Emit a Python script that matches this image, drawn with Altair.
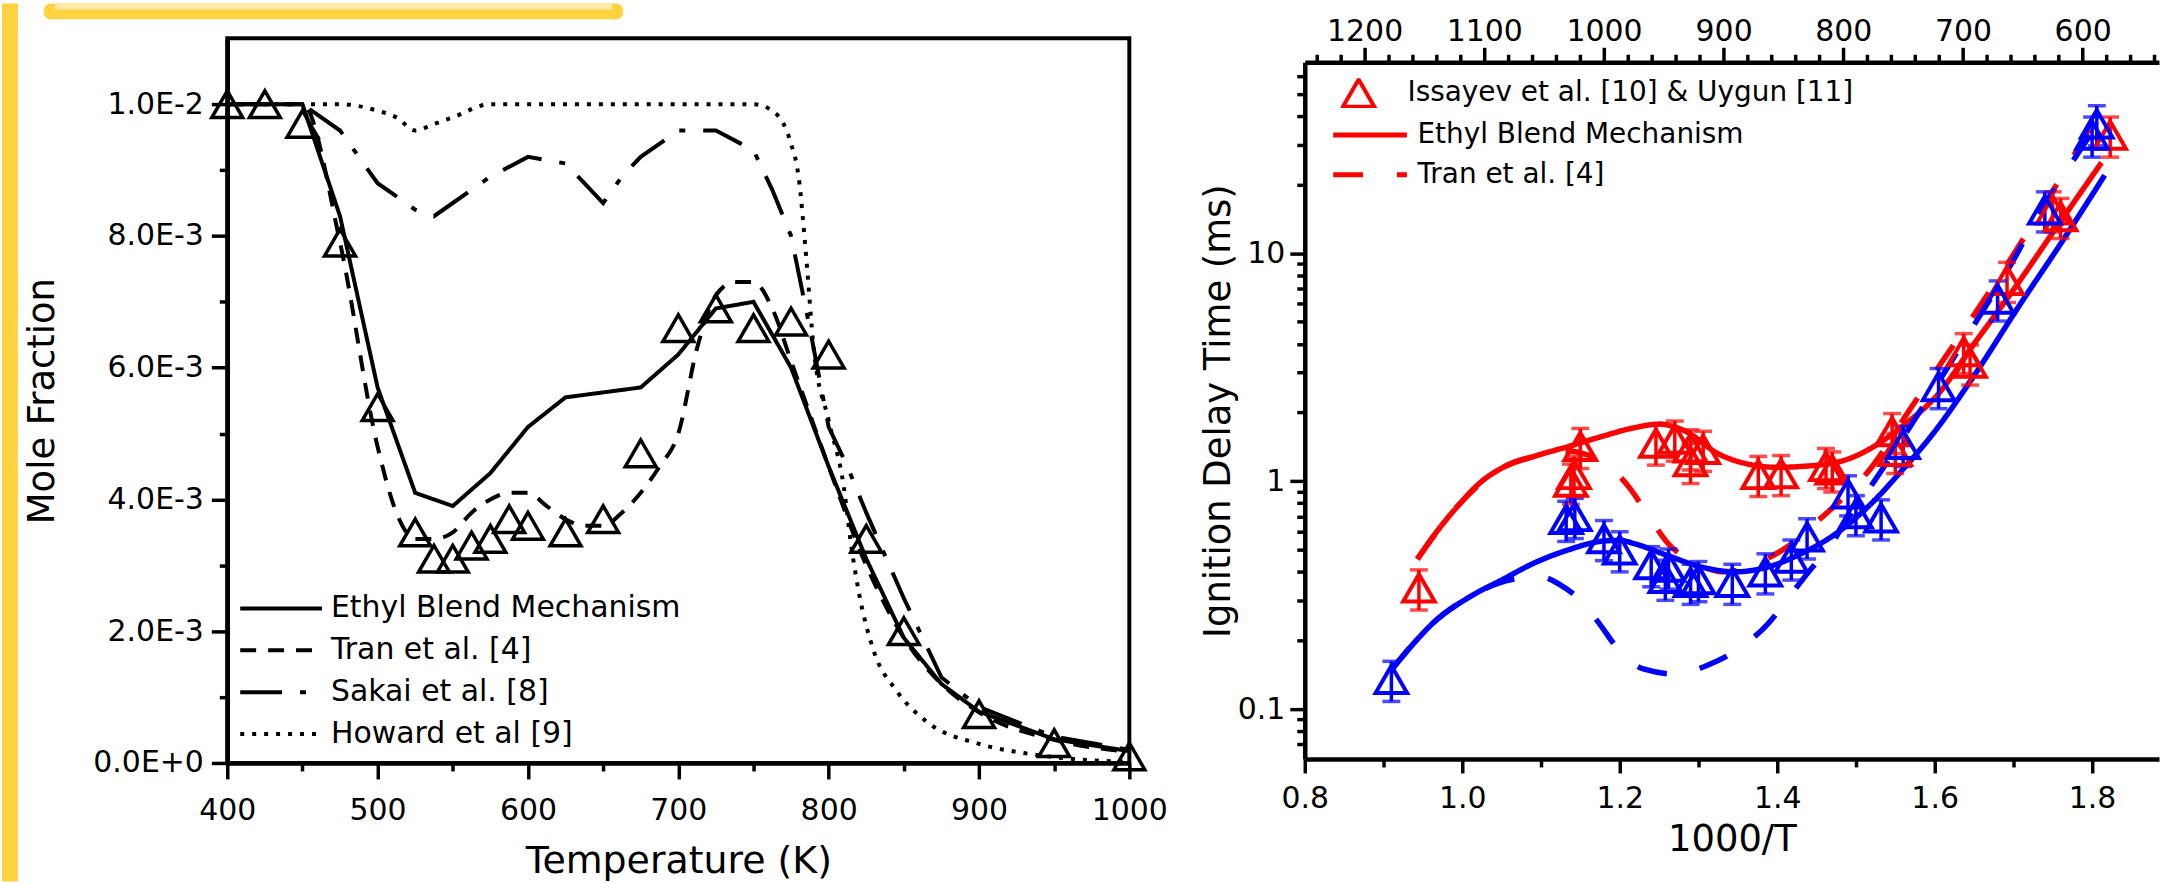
import altair as alt
import pandas as pd

FONT = "DejaVu Sans"
GOLD = "#FFD23F"
LIGHT_GOLD = "#FFE9A6"

# ---------------- Left panel: mole fraction vs temperature ----------------
exp_T = [400, 425, 450, 475, 500, 525, 537.5, 550, 562.5, 575, 587.5, 600, 625, 650, 675,
         700, 725, 750, 775, 800, 825, 850, 900, 950, 1000]
exp_X = [0.0100, 0.0100, 0.0097, 0.0079, 0.0054, 0.0035, 0.0031, 0.0031, 0.0033, 0.0034, 0.0037,
         0.0036, 0.0035, 0.0037, 0.0047, 0.0066, 0.0069, 0.0066, 0.0067, 0.0062, 0.0034, 0.0020,
         0.00074, 0.0003, 0.0001]

ethyl_T = [400, 450, 475, 500, 525, 550, 575, 600, 625, 675, 700, 725, 750, 775, 800, 825, 850,
           875, 900, 950, 1000]
ethyl_X = [0.0100, 0.0100, 0.0083, 0.0057, 0.0041, 0.0039, 0.0044, 0.0051, 0.00555, 0.0057, 0.0062,
           0.0069, 0.0070, 0.0060, 0.0045, 0.0031, 0.0019, 0.0012, 0.00078, 0.00036, 0.00018]

tran_T = [400, 450, 475, 500, 512.5, 525, 537.5, 550, 562.5, 575, 587.5, 600, 612.5, 625, 637.5,
          650, 662.5, 675, 687.5, 700, 712.5, 725, 737.5, 750, 762.5, 775, 800, 825, 850, 875, 900,
          950, 1000]
tran_X = [0.0100, 0.0100, 0.0079, 0.0048, 0.0038, 0.0034, 0.0034, 0.0035, 0.0038, 0.0040, 0.0041,
          0.0041, 0.0039, 0.0037, 0.0036, 0.0036, 0.0038, 0.0041, 0.0045, 0.0050, 0.0063, 0.0071,
          0.0073, 0.0073, 0.0069, 0.0061, 0.0045, 0.0030, 0.0019, 0.0012, 0.00077, 0.00035, 0.00017]

sakai_T = [400, 450, 475, 500, 525, 537.5, 550, 575, 600, 625, 637.5, 650, 662.5, 675, 700, 725,
           750, 762.5, 775, 787.5, 800, 812.5, 825, 850, 875, 900, 950, 1000]
sakai_X = [0.0100, 0.0100, 0.0096, 0.0088, 0.0084, 0.0083, 0.0085, 0.0089, 0.0092, 0.0091, 0.0088,
           0.0085, 0.0089, 0.0092, 0.0096, 0.0096, 0.0093, 0.0087, 0.0080, 0.0066, 0.0051, 0.0045,
           0.0038, 0.0025, 0.0013, 0.00085, 0.0004, 0.0002]

howard_T = [400, 450, 475, 500, 512.5, 525, 537.5, 550, 575, 600, 750, 762.5, 770, 775, 780, 785,
            790, 800, 810, 815, 820, 830, 845, 865, 900, 930, 975, 1000]
howard_X = [0.0100, 0.0100, 0.0100, 0.0099, 0.0098, 0.0096, 0.0097, 0.0098, 0.0100, 0.0100, 0.0100,
            0.0099, 0.0097, 0.0094, 0.0089, 0.0077, 0.0063, 0.0052, 0.0042, 0.0033, 0.0026, 0.0017,
            0.0011, 0.00063, 0.00029, 0.00015, 0.00004, 0.00002]

models_left = ["Ethyl Blend Mechanism", "Tran et al. [4]", "Sakai et al. [8]", "Howard et al [9]"]
dashes_left = [[1, 0], [16, 12], [42, 18, 6, 18], [4, 8]]

left_x_ticks = [400, 450, 500, 550, 600, 650, 700, 750, 800, 850, 900, 950, 1000]
left_y_ticks = [0.0, 0.001, 0.002, 0.003, 0.004, 0.005, 0.006, 0.007, 0.008, 0.009, 0.010]

# ---------------- Right panel: ignition delay vs 1000/T ----------------
red_exp_x = [0.945, 1.138, 1.142, 1.150, 1.246, 1.270, 1.290, 1.290, 1.306, 1.376, 1.405, 1.462,
             1.470, 1.546, 1.550, 1.637, 1.645, 1.692, 1.750, 1.760, 1.823]
red_exp_v = [0.34, 0.99, 1.07, 1.42, 1.47, 1.53, 1.40, 1.22, 1.38, 1.07, 1.08, 1.16, 1.12, 1.65,
             1.35, 3.7, 3.3, 7.6, 15.5, 14.5, 33]
blue_exp_x = [0.910, 1.132, 1.143, 1.180, 1.200, 1.240, 1.258, 1.262, 1.290, 1.300, 1.343, 1.385,
              1.418, 1.438, 1.490, 1.500, 1.532, 1.560, 1.605, 1.680, 1.740, 1.800, 1.806]
blue_exp_v = [0.135, 0.68, 0.70, 0.56, 0.50, 0.43, 0.375, 0.42, 0.36, 0.37, 0.36, 0.40, 0.46, 0.57,
              0.88, 0.72, 0.69, 1.45, 2.6, 6.3, 15.5, 33, 37]
err_frac = 0.2  # relative uncertainty shown by the error bars

red_eth_x = [0.943, 0.966, 0.996, 1.025, 1.050, 1.093, 1.135, 1.177, 1.220, 1.250, 1.283, 1.325,
             1.367, 1.400, 1.430, 1.480, 1.523, 1.557, 1.604, 1.650, 1.696, 1.750, 1.812]
red_eth_v = [0.455, 0.59, 0.79, 1.00, 1.14, 1.29, 1.42, 1.57, 1.72, 1.78, 1.66, 1.32, 1.18, 1.15,
             1.16, 1.22, 1.42, 1.72, 2.4, 4.0, 6.6, 12.3, 25]
red_tran_x = [0.943, 0.996, 1.050, 1.093, 1.120, 1.140, 1.160, 1.181, 1.213, 1.237, 1.262, 1.295,
              1.333, 1.380, 1.418, 1.456, 1.483, 1.519, 1.566, 1.611, 1.658, 1.705, 1.747, 1.785,
              1.816]
red_tran_v = [0.455, 0.79, 1.14, 1.29, 1.34, 1.35, 1.30, 1.20, 0.93, 0.70, 0.53, 0.44, 0.40, 0.445,
              0.53, 0.69, 0.84, 1.14, 2.0, 3.4, 5.9, 10.5, 18, 30, 46]
blue_eth_x = [0.909, 0.933, 0.966, 1.009, 1.051, 1.093, 1.135, 1.177, 1.200, 1.220, 1.262, 1.304,
              1.346, 1.388, 1.430, 1.472, 1.515, 1.557, 1.600, 1.650, 1.709, 1.760, 1.816]
blue_eth_v = [0.147, 0.185, 0.244, 0.31, 0.37, 0.44, 0.50, 0.545, 0.55, 0.53, 0.47, 0.42, 0.40,
              0.42, 0.48, 0.58, 0.77, 1.1, 1.65, 2.9, 6.0, 11, 22]
blue_tran_x = [0.909, 0.966, 1.009, 1.063, 1.100, 1.125, 1.150, 1.171, 1.203, 1.230, 1.275, 1.310,
               1.357, 1.388, 1.418, 1.440, 1.470, 1.485, 1.519, 1.574, 1.620, 1.660, 1.705, 1.725,
               1.760, 1.800]
blue_tran_v = [0.147, 0.244, 0.31, 0.37, 0.38, 0.35, 0.30, 0.245, 0.175, 0.15, 0.142, 0.155, 0.19,
               0.236, 0.32, 0.40, 0.535, 0.65, 0.95, 1.85, 3.3, 5.5, 10, 13.5, 21, 34]

conds = ["red set", "blue set"]
cond_colors = ["#FF0000", "#0000FF"]
models_right = ["Ethyl Blend Mechanism", "Tran et al. [4]"]
dashes_right = [[1, 0], [30, 34]]
exp_label = "Issayev et al. [10] & Uygun [11]"

right_x_ticks = [0.8, 0.9, 1.0, 1.1, 1.2, 1.3, 1.4, 1.5, 1.6, 1.7, 1.8]
right_y_ticks = [0.07, 0.08, 0.09, 0.1, 0.2, 0.3, 0.4, 0.5, 0.6, 0.7, 0.8, 0.9, 1, 2, 3, 4, 5, 6,
                 7, 8, 9, 10, 20, 30, 40, 50, 60]
top_T_ticks = list(range(540, 1241, 20))
top_T_domain = [536.19, 1250]
x_domain_right = [0.8, 1.885]
y_domain_right = [0.0604, 68.9]

# ---------------- build left panel ----------------
def cond_size(test, major, minor):
    return {"condition": {"test": test, "value": major}, "value": minor}

left_x = alt.X("T:Q", scale=alt.Scale(domain=[400, 1000], nice=False, zero=False),
               axis=alt.Axis(values=left_x_ticks,
                             labelExpr="datum.value % 100 == 0 ? format(datum.value, 'd') : ''",
                             tickSize=cond_size("datum.value % 100 == 0", 16, 8),
                             labelPadding=17, title="Temperature (K)", titlePadding=17,
                             titleFontSize=38))
left_y = alt.Y("X:Q", scale=alt.Scale(domain=[0, 0.011], nice=False, zero=True),
               axis=alt.Axis(values=left_y_ticks,
                             labelExpr="round(datum.value*1000) % 2 != 0 ? '' : (datum.value == 0 ? '0.0E+0' : "
                                       "format(datum.value / pow(10, floor(log(datum.value)/LN10 + 1e-9)), '.1f') "
                                       "+ 'E' + floor(log(datum.value)/LN10 + 1e-9))",
                             tickSize=cond_size("round(datum.value*1000) % 2 == 0", 16, 8),
                             labelPadding=8, title="Mole Fraction", titlePadding=31))

dash_left = alt.StrokeDash("model:N", scale=alt.Scale(domain=models_left, range=dashes_left),
                           legend=alt.Legend(orient="none", legendX=11, legendY=557, title=None,
                                             symbolType="stroke", symbolSize=6724, symbolStrokeWidth=4,
                                             symbolStrokeColor="black", labelFontSize=30,
                                             labelLimit=1000, labelOffset=7, clipHeight=30,
                                             rowPadding=12, padding=0))

def line_df(xs, ys, model, xname="T", yname="X", mname="model", cond=None):
    d = pd.DataFrame({xname: xs, yname: ys, mname: model})
    if cond is not None:
        d["cond"] = cond
    return d

lin_df = pd.concat([line_df(ethyl_T, ethyl_X, models_left[0]), line_df(sakai_T, sakai_X, models_left[2])])
smooth_df = pd.concat([line_df(tran_T, tran_X, models_left[1]), line_df(howard_T, howard_X, models_left[3])])

one = pd.DataFrame({"k": [0]})
strip = alt.Chart(one).mark_rect(color=GOLD).encode(
    x=alt.value(-226), x2=alt.value(-210), y=alt.value(-35), y2=alt.value(846))
header = alt.Chart(one).mark_rect(color=GOLD, cornerRadius=7).encode(
    x=alt.value(-184), x2=alt.value(397), y=alt.value(-35), y2=alt.value(-19))
header_in = alt.Chart(one).mark_rect(color=LIGHT_GOLD).encode(
    x=alt.value(-173), x2=alt.value(386), y=alt.value(-35), y2=alt.value(-29))

l_lin = alt.Chart(lin_df).mark_line(color="black", strokeWidth=4).encode(
    x=left_x, y=left_y, strokeDash=dash_left)
l_smooth = alt.Chart(smooth_df).mark_line(color="black", strokeWidth=4, interpolate="monotone").encode(
    x=left_x, y=left_y, strokeDash=dash_left)
l_pts = alt.Chart(pd.DataFrame({"T": exp_T, "X": exp_X})).mark_point(
    shape="triangle-up", filled=False, size=960, strokeWidth=3.5, color="black", opacity=1).encode(
    x=left_x, y=left_y)

left = alt.layer(strip, header, header_in, l_lin, l_smooth, l_pts).properties(
    width=905, height=727, view=alt.ViewBackground(stroke="black", strokeWidth=4))

# ---------------- build right panel ----------------
right_x = alt.X("X:Q", scale=alt.Scale(domain=x_domain_right, nice=False, zero=False),
                axis=alt.Axis(values=right_x_ticks,
                              labelExpr="round(datum.value*10) % 2 == 0 ? format(datum.value, '.1f') : ''",
                              tickSize=cond_size("round(datum.value*10) % 2 == 0", 14, 8),
                              labelPadding=11, title="1000/T", titlePadding=8))
right_y_axis = alt.Axis(values=right_y_ticks,
                        labelExpr="datum.value == 0.1 ? '0.1' : datum.value == 1 ? '1' : datum.value == 10 ? '10' : ''",
                        tickSize=cond_size("datum.value == 0.1 || datum.value == 1 || datum.value == 10", 15, 8),
                        labelPadding=5, title="Ignition Delay Time (ms)", titlePadding=0)
right_y_scale = alt.Scale(type="log", domain=y_domain_right, range=[723, 24], nice=False)

color_enc = alt.Color("cond:N", scale=alt.Scale(domain=conds, range=cond_colors), legend=None)

exp_df = pd.concat([
    pd.DataFrame({"X": red_exp_x, "V": red_exp_v, "cond": conds[0]}),
    pd.DataFrame({"X": blue_exp_x, "V": blue_exp_v, "cond": conds[1]}),
])
exp_df["lo"] = exp_df["V"] * (1 - err_frac)
exp_df["hi"] = exp_df["V"] * (1 + err_frac)
exp_df["src"] = exp_label

mod_df = pd.concat([
    line_df(red_eth_x, red_eth_v, models_right[0], "X", "V", "mech", conds[0]),
    line_df(red_tran_x, red_tran_v, models_right[1], "X", "V", "mech", conds[0]),
    line_df(blue_eth_x, blue_eth_v, models_right[0], "X", "V", "mech", conds[1]),
    line_df(blue_tran_x, blue_tran_v, models_right[1], "X", "V", "mech", conds[1]),
])

dash_right = alt.StrokeDash("mech:N", scale=alt.Scale(domain=models_right, range=dashes_right),
                            legend=alt.Legend(orient="none", legendX=26, legendY=82, title=None,
                                              symbolType="stroke", symbolSize=5476, symbolStrokeWidth=5,
                                              symbolStrokeColor="#FF0000", labelFontSize=28,
                                              labelLimit=1000, labelOffset=8, clipHeight=30,
                                              rowPadding=10, padding=0))

r_lines = alt.Chart(mod_df).mark_line(strokeWidth=5.5, interpolate="monotone").encode(
    x=right_x, y=alt.Y("V:Q", scale=right_y_scale, axis=right_y_axis),
    color=color_enc, strokeDash=dash_right)
r_rule = alt.Chart(exp_df).mark_rule(strokeWidth=3.5).encode(
    x=right_x, y=alt.Y("lo:Q", scale=right_y_scale, axis=right_y_axis), y2="hi:Q", color=color_enc)
r_cap_lo = alt.Chart(exp_df).mark_tick(orient="horizontal", size=18, thickness=3.5).encode(
    x=right_x, y=alt.Y("lo:Q", scale=right_y_scale, axis=right_y_axis), color=color_enc)
r_cap_hi = alt.Chart(exp_df).mark_tick(orient="horizontal", size=18, thickness=3.5).encode(
    x=right_x, y=alt.Y("hi:Q", scale=right_y_scale, axis=right_y_axis), color=color_enc)
r_pts = alt.Chart(exp_df).mark_point(filled=False, size=1000, strokeWidth=4, opacity=1).encode(
    x=right_x, y=alt.Y("V:Q", scale=right_y_scale, axis=right_y_axis), color=color_enc,
    shape=alt.Shape("src:N", scale=alt.Scale(domain=[exp_label], range=["triangle-up"]),
                    legend=alt.Legend(orient="none", legendX=36, legendY=40, title=None,
                                      symbolSize=1000, symbolStrokeWidth=4, symbolStrokeColor="#FF0000",
                                      symbolFillColor="transparent", labelFontSize=28, labelLimit=1000,
                                      labelOffset=31, clipHeight=30, padding=0)))

top_axis = alt.Chart(pd.DataFrame({"Tt": top_T_domain})).mark_point(opacity=0).encode(
    x=alt.X("Tt:Q", scale=alt.Scale(domain=top_T_domain, reverse=True, nice=False, zero=False),
            axis=alt.Axis(orient="top", offset=-24, values=top_T_ticks,
                          labelExpr="datum.value % 100 == 0 ? format(datum.value, 'd') : ''",
                          tickSize=cond_size("datum.value % 100 == 0", 15, 8),
                          labelPadding=1, title=None)))

right = alt.layer(top_axis, alt.layer(r_lines, r_rule, r_cap_lo, r_cap_hi, r_pts)).resolve_scale(
    x="independent").properties(width=857, height=723)

chart = alt.hconcat(left, right, spacing=28).resolve_scale(
    strokeDash="independent", shape="independent", color="independent").resolve_legend(
    strokeDash="independent", shape="independent", color="independent").properties(
    padding=0).configure_view(stroke="transparent").configure_axis(
    labelFont=FONT, titleFont=FONT, labelFontSize=30, titleFontSize=37, titleFontWeight="normal",
    labelColor="black", titleColor="black", domainColor="black", tickColor="black",
    domainWidth=4.5, tickWidth=3.5, grid=False, labelFlush=False, labelOverlap=False).configure_legend(
    labelFont=FONT, labelColor="black")

chart.save("out.html", embed_options={"renderer": "svg", "actions": False})
